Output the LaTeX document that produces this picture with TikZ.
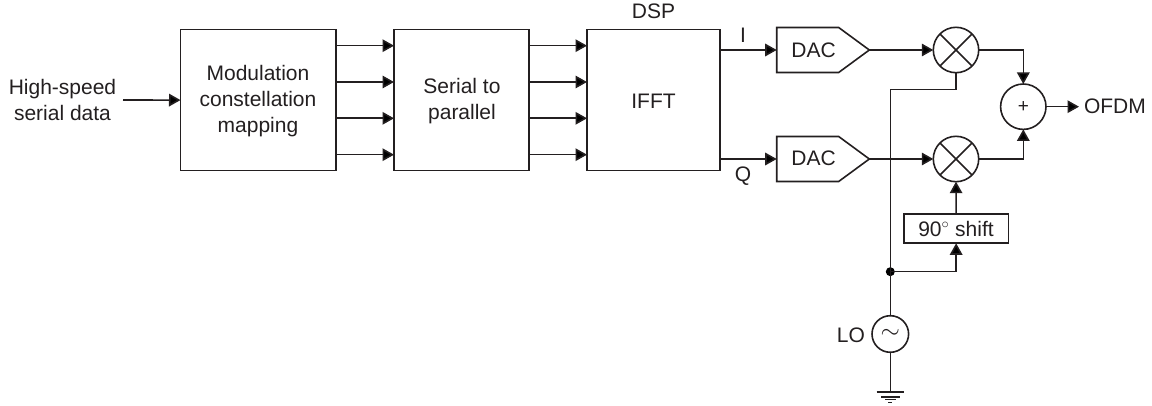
\documentclass[tikz,border=0pt]{standalone}
\usepackage{fontspec}
\setmainfont{Liberation Sans}
\usetikzlibrary{arrows.meta,shapes.symbols}
\definecolor{ink}{HTML}{231F20}
\tikzset{
  x=1pt,y=-1pt,
  every node/.style={font=\fontsize{21}{26}\selectfont,outer sep=0pt,inner sep=0pt,text=ink},
  wire/.style={line width=1.6pt,draw=ink},
  arr/.style={wire,-{Triangle[length=11.5pt,width=12.5pt,fill=black]}},
  blockbox/.style={draw=ink,line width=1.6pt,align=center,anchor=north west},
  ring/.style={circle,draw=ink,line width=1.6pt,minimum size=45.4pt},
  dacbox/.style={signal,signal to=east,signal pointer angle=72.6,draw=ink,line width=1.6pt,minimum height=45pt,minimum width=92.6pt,anchor=west},
  txt/.style={align=center},
  dot/.style={circle,fill=black,minimum size=9pt}
}
\begin{document}
\begin{tikzpicture}
\useasboundingbox (0,0) rectangle (1152,406);
% blocks
\node[blockbox,minimum width=155.5pt,minimum height=141.2pt] (map) at (180.5,29.5) {};
\node[txt] at (258,101.5) {Modulation\\constellation\\mapping};
\node[blockbox,minimum width=135pt,minimum height=141.2pt] (sp) at (394,29.5) {};
\node[txt] at (462,101) {Serial to\\parallel};
\node[blockbox,minimum width=133pt,minimum height=141.2pt] (ifft) at (587,29.5) {};
\node[txt] at (653.5,101) {IFFT};
\node[txt] (dsp) at (653.5,11) {DSP};
\node[txt] (hs) at (62.5,100) {High-speed\\serial data};
\coordinate (hsend) at (123,100);
\draw[arr] (hsend) -- (map.west);
% parallel arrows
\foreach \yy in {45.7,82,118.3,154.7}{
  \draw[arr] (map.east |- 0,\yy) -- (sp.west |- 0,\yy);
  \draw[arr] (sp.east |- 0,\yy) -- (ifft.west |- 0,\yy);
}
% DACs
\node[dacbox] (d1) at (776.7,50) {};
\node[txt] at (813.5,50) {DAC};
\node[dacbox] (d2) at (776.7,159) {};
\node[txt] at (813.5,158.5) {DAC};
\draw[arr] (ifft.east |- d1.west) -- (d1.west);
\draw[arr] (ifft.east |- d2.west) -- (d2.west);
\node[txt] (i) at (743,35) {I};
\node[txt] (q) at (743,176.5) {Q};
% mixers
\node[ring] (m1) at (956,50) {};
\node[ring] (m2) at (956,159) {};
\foreach \m in {m1,m2}{
  \draw[wire] (\m.45) -- (\m.225);
  \draw[wire] (\m.135) -- (\m.315);
}
\node[ring,font=\fontsize{19}{19}\selectfont] (add) at (1023.3,106.7) {+};
\draw[arr] (d1.east) -- (m1.west);
\draw[arr] (d2.east) -- (m2.west);
\draw[arr] (m1.east) -| (add.north);
\draw[arr] (m2.east) -| (add.south);
\node[txt,anchor=west] (ofdm) at (1084,106.7) {OFDM};
\coordinate (ofdmtip) at (1079,106.7);
\draw[arr] (add.east) -- (ofdmtip);
% LO
\node[ring,minimum size=36.6pt,font=\fontsize{24}{24}\selectfont] (lo) at (890.3,334) {$\sim$};
\node[txt,anchor=east] (lol) at (865,335) {LO};
\node[dot] (j) at (890.3,271.7) {};
\node[blockbox,minimum width=104.3pt,minimum height=29.3pt] (sh) at (904,214) {};
\node[txt] at (956,229) {90$^\circ$ shift};
\coordinate (bend) at (890.3,89.7);
\draw[wire] (m1.south) |- (bend) -- (lo.north);
\draw[arr] (j.center) -| (sh.south);
\draw[arr] (sh.north) -- (m2.south);
% ground
\coordinate (g1) at (890.3,391.7);
\draw[wire] (lo.south) -- (g1);
\draw[wire] (876.7,391.7) -- (904.3,391.7);
\draw[wire] (881,396.7) -- (900,396.7);
\draw[wire] (885,399.5) -- (895.6,399.5);
\draw[wire] (888.4,402.5) -- (892.2,402.5);
\end{tikzpicture}
\end{document}
